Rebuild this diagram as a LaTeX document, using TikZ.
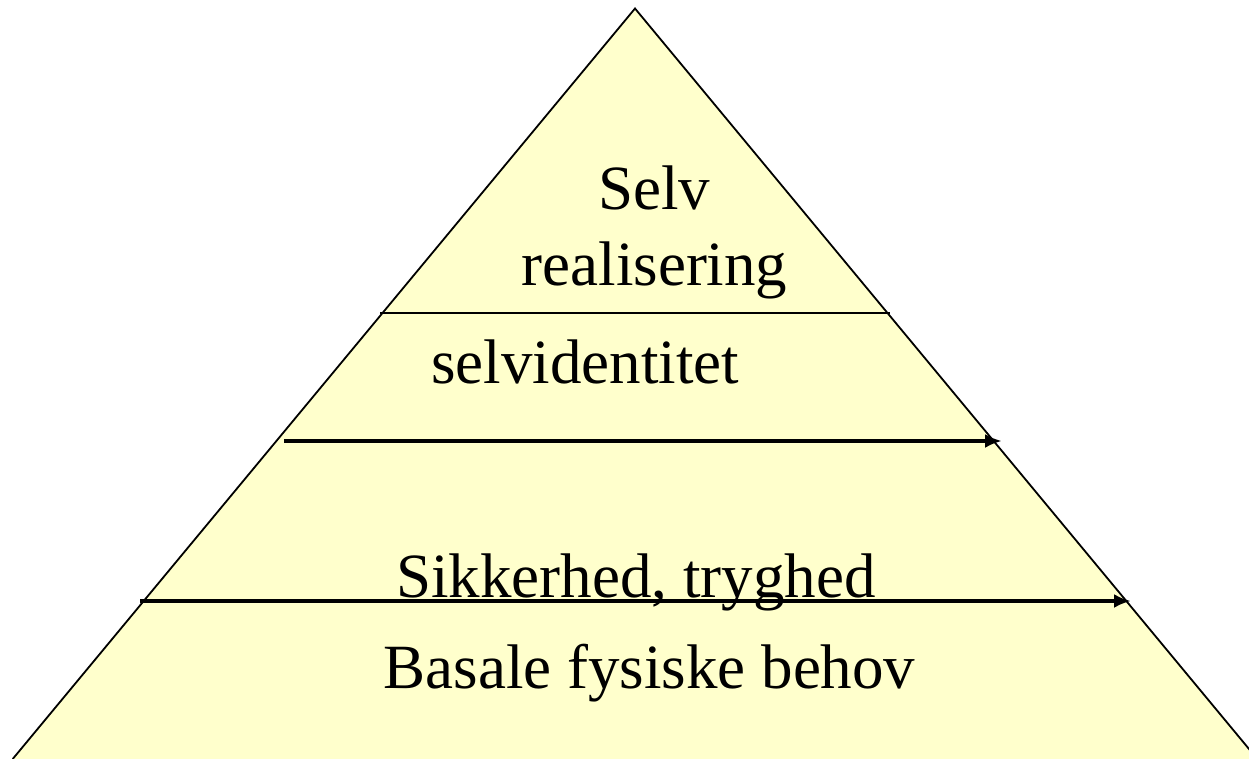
\documentclass[tikz,border=0pt]{standalone}
\usepackage{fontspec}
\setmainfont{Liberation Serif}
\usetikzlibrary{arrows.meta}
\definecolor{pyr}{RGB}{255,255,204}
\tikzset{
  lbl/.style={anchor=base, inner sep=0pt, font=\fontsize{63pt}{75pt}\selectfont},
  level/.style={line width=1.8pt},
  levelarrow/.style={line width=3.5pt, -{Latex[length=17pt,width=14pt]}},
}
\begin{document}
\begin{tikzpicture}[x=1pt,y=-1pt]
\useasboundingbox (0,0) rectangle (1249,759);
\begin{scope}
\clip (0,0) rectangle (1249,759);
\coordinate (apex) at (635,8.5);
\coordinate (bl) at (12.7,759);
\coordinate (br) at (1257.3,759);
\fill[pyr] (apex) -- (bl) -- (br) -- cycle;
\draw[line width=1.8pt] (bl) -- (apex) -- (br);
\end{scope}
\coordinate (l1a) at (380,313);
\coordinate (l1b) at (890,313);
\coordinate (l2a) at (284,441);
\coordinate (l2b) at (1002,441);
\coordinate (l3a) at (140,601);
\coordinate (l3b) at (1131,601);
\draw[level] (l1a) -- (l1b);
\draw[levelarrow] (l2a) -- (l2b);
\draw[levelarrow] (l3a) -- (l3b);
\node[lbl] (selv) at (654,210) {Selv};
\node[lbl] (real) at (654.5,285) {realisering};
\node[lbl] (ident) at (585,383) {selvidentitet};
\node[lbl] (sikk) at (636,597) {Sikkerhed, tryghed};
\node[lbl] (basal) at (649.5,688) {Basale fysiske behov};
\end{tikzpicture}
\end{document}
